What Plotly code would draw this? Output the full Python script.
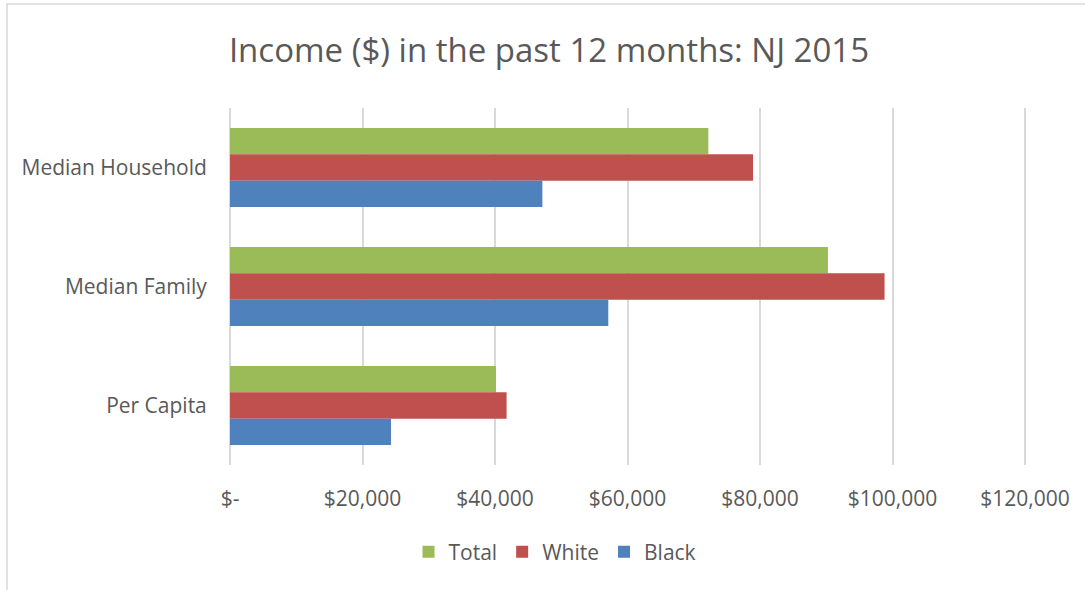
import plotly.graph_objects as go

categories = ["Median Household", "Median Family", "Per Capita"]
total = [72200, 90250, 40150]
white = [78950, 98800, 41750]
black = [47150, 57100, 24300]
series_names = ["Total", "White", "Black"]
colors = ["#9BBB59", "#C0504D", "#4F81BD"]
tick_vals = [0, 20000, 40000, 60000, 80000, 100000, 120000]
tick_text = ["$-", "$20,000", "$40,000", "$60,000", "$80,000", "$100,000", "$120,000"]

FONT = "Open Sans"
TXT = "#595959"

fig = go.Figure()
for name, vals, col in zip(series_names, [total, white, black], colors):
    fig.add_trace(go.Bar(
        y=categories, x=vals, name=name, orientation="h",
        marker=dict(color=col, line=dict(width=0)),
    ))

L, R, T, B = 230, 56, 108, 125
W, H = 1085, 590
pw = W - L - R
ph = H - T - B

def px_x(x):
    return (x - L) / pw

def px_y(y):
    return (H - B - y) / ph

fig.update_layout(
    width=W, height=H,
    margin=dict(l=L, r=R, t=T, b=B),
    paper_bgcolor="white", plot_bgcolor="white",
    barmode="group", bargap=0.336, bargroupgap=0,
    font=dict(family=FONT, color=TXT, size=21),
    title=dict(text="Income ($) in the past 12 months: NJ 2015",
               x=549 / W, xanchor="center", xref="container",
               y=1 - 50 / H, yanchor="middle", yref="container",
               font=dict(family=FONT, size=33, color=TXT)),
    xaxis=dict(range=[0, 120600], tickvals=tick_vals, ticktext=tick_text,
               showgrid=True, gridcolor="#D9D9D9", gridwidth=2,
               zeroline=True, zerolinecolor="#D9D9D9", zerolinewidth=2,
               showline=False, ticks="outside", ticklen=15,
               tickcolor="rgba(0,0,0,0)", tickfont=dict(size=21, color=TXT)),
    yaxis=dict(autorange="reversed", showgrid=False, showline=False,
               ticks="outside", ticklen=18, tickcolor="rgba(0,0,0,0)",
               tickfont=dict(size=21, color=TXT)),
    legend=dict(orientation="h", x=px_x(555), xanchor="center",
                y=px_y(552), yanchor="middle", traceorder="normal",
                font=dict(size=21, color=TXT), itemwidth=30),
    shapes=[dict(type="rect", xref="paper", yref="paper",
                 x0=px_x(7), x1=px_x(1095), y0=px_y(600), y1=px_y(4),
                 line=dict(color="#D9D9D9", width=1.5), fillcolor="rgba(0,0,0,0)",
                 layer="below")],
)

fig.write_html("out.html", config={"displayModeBar": False},
               post_script="document.body.style.margin='0px';")
